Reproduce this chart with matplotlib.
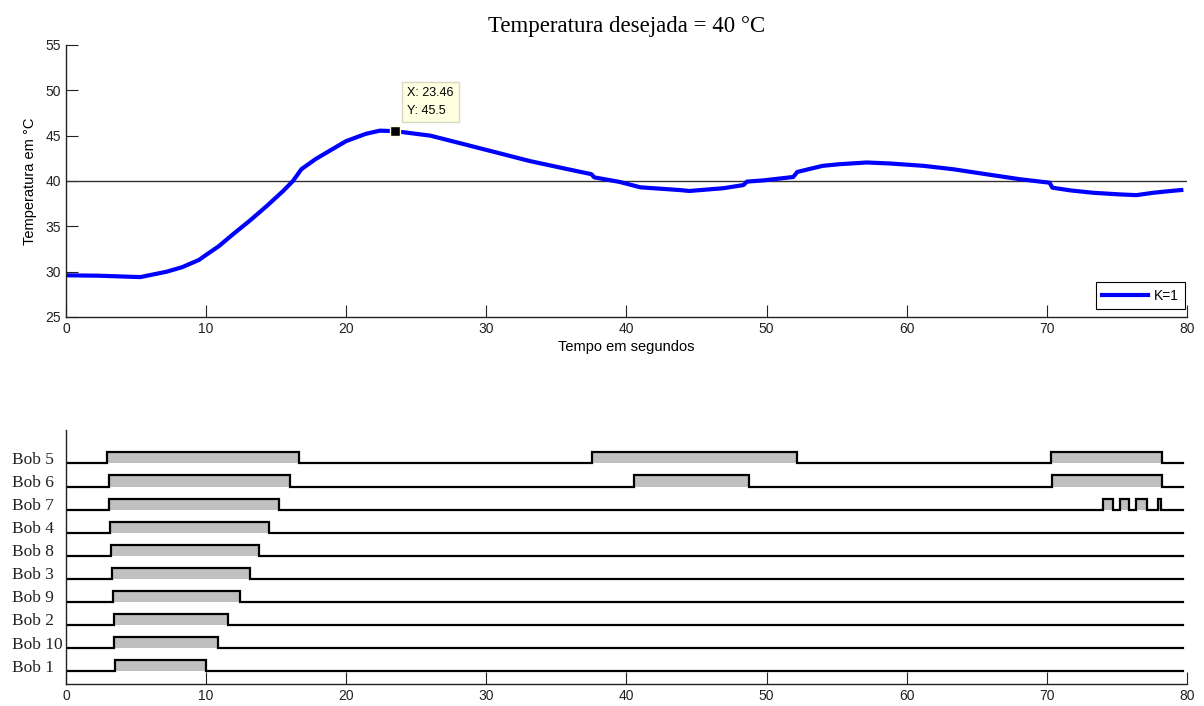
import matplotlib
matplotlib.use("Agg")
import matplotlib.pyplot as plt

# curva de temperatura
tempo = [0, 2.4, 5.3, 7.2, 8.3, 9.5, 10, 10.9, 11.9, 13.1, 14.3, 15.5, 16.2, 16.8,
         17.8, 19.0, 20.0, 21.4, 22.4, 23.46, 26.0, 28.3, 30.7, 33.1, 35.5, 37.5,
         37.7, 39.5, 41.0, 43.8, 44.5, 46.9, 48.35, 48.6, 49.8, 51.9, 52.2, 54.0,
         55.2, 57.15, 58.8, 61.2, 63.3, 65.7, 68.1, 70.2, 70.4, 71.7, 73.3, 75.2,
         76.4, 77.6, 78.8, 79.6]
temp = [29.6, 29.55, 29.4, 30.0, 30.5, 31.3, 31.85, 32.8, 34.1, 35.6, 37.2, 38.9,
        40.0, 41.3, 42.4, 43.5, 44.4, 45.2, 45.55, 45.5, 45.0, 44.1, 43.15, 42.2,
        41.4, 40.75, 40.4, 39.9, 39.3, 39.0, 38.9, 39.2, 39.55, 39.93, 40.07, 40.44,
        41.0, 41.67, 41.85, 42.04, 41.93, 41.67, 41.3, 40.74, 40.19, 39.81, 39.26,
        38.96, 38.7, 38.52, 38.44, 38.7, 38.89, 39.0]

temp_desejada = 40
tip_x, tip_y = 23.46, 45.5

# bobinas: nomes e lista de (liga, desliga)
bobinas = ["Bob 1", "Bob 10", "Bob 2", "Bob 9", "Bob 3", "Bob 8", "Bob 4", "Bob 7", "Bob 6", "Bob 5"]
pulsos = [
    [(3.52, 9.99)],
    [(3.45, 10.87)],
    [(3.45, 11.59)],
    [(3.38, 12.44)],
    [(3.3, 13.13)],
    [(3.2, 13.8)],
    [(3.12, 14.5)],
    [(3.05, 15.2), (74.0, 74.7), (75.2, 75.9), (76.4, 77.15), (77.95, 78.15)],
    [(3.05, 15.97), (40.54, 48.75), (70.4, 78.2)],
    [(2.9, 16.6), (37.57, 52.2), (70.3, 78.2)],
]
t_fim = 79.7

plt.rcParams['font.family'] = ['Liberation Sans', 'DejaVu Sans']

fig = plt.figure(figsize=(12.04, 7.06), dpi=100)
ax1 = fig.add_axes([0.0548, 0.551, 0.931, 0.3853])
ax2 = fig.add_axes([0.0548, 0.031, 0.931, 0.36])

# ---- grafico de temperatura
ax1.axhline(temp_desejada, color='#333333', lw=1)
ax1.plot(tempo, temp, color='blue', lw=3, label='K=1')
ax1.plot([tip_x], [tip_y], 's', color='black', ms=7, mec='#ffffe1', mew=1)
ax1.text(tip_x + 0.9, 48.7, 'X: %.2f\nY: %.1f' % (tip_x, tip_y), fontsize=9,
         va='center', ha='left', linespacing=1.6,
         bbox=dict(boxstyle='square,pad=0.45', fc='#ffffe1', ec='#d8d8c0', lw=1))
ax1.set_xlim(0, 80)
ax1.set_ylim(25, 55)
ax1.set_xticks(range(0, 81, 10))
ax1.set_yticks(range(25, 56, 5))
ax1.set_xlabel('Tempo em segundos', fontsize=10.5, labelpad=3)
ax1.set_ylabel('Temperatura em °C', fontsize=10.5, labelpad=6)
ax1.set_title('Temperatura desejada = 40 °C', fontsize=16.5, family='Liberation Serif', pad=9)
leg = ax1.legend(loc='lower right', bbox_to_anchor=(0.998, 0.03), fontsize=10,
                 fancybox=False, edgecolor='black', framealpha=1, handlelength=3.3,
                 handletextpad=0.4, borderpad=0.45, borderaxespad=0)
leg.get_frame().set_linewidth(0.8)

# ---- grafico das bobinas
h = 0.48
for i, (nome, pp) in enumerate(zip(bobinas, pulsos)):
    xs = [0]
    ys = [i]
    for on, off in pp:
        xs += [on, on, off, off]
        ys += [i, i + h, i + h, i]
        ax2.fill_between([on, off], i, i + h, color='#c0c0c0', lw=0)
    xs.append(t_fim)
    ys.append(i)
    ax2.plot(xs, ys, color='black', lw=1.6, solid_joinstyle='miter')

ax2.set_xlim(0, 80)
ax2.set_ylim(-0.55, 10.45)
ax2.set_xticks(range(0, 81, 10))
ax2.set_yticks([i + 0.25 for i in range(len(bobinas))])
ax2.set_yticklabels(bobinas, family='Liberation Serif', fontsize=12.5, ha='left')

for ax in (ax1, ax2):
    ax.spines['top'].set_visible(False)
    ax.spines['right'].set_visible(False)
    for s in ('left', 'bottom'):
        ax.spines[s].set_color('#222222')
        ax.spines[s].set_linewidth(1)
    ax.tick_params(direction='in', length=8.5, width=0.8, labelsize=10, colors='#222222')
ax2.tick_params(axis='y', length=0, labelsize=12.5, pad=39)

fig.savefig('out.png', dpi=100)
